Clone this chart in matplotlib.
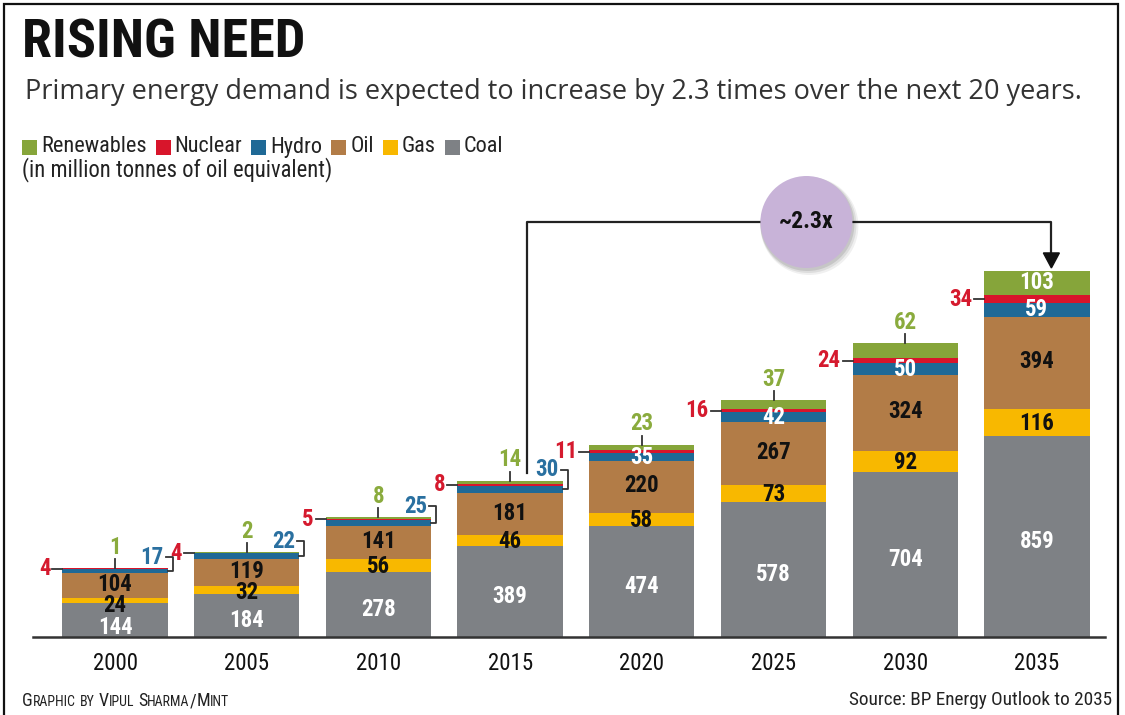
import matplotlib
matplotlib.use("Agg")
from matplotlib import pyplot as plt
from matplotlib import font_manager as fm
from matplotlib.patches import Rectangle, Ellipse, Polygon

# values in million tonnes of oil equivalent
years = ["2000", "2005", "2010", "2015", "2020", "2025", "2030", "2035"]
coal = [144, 184, 278, 389, 474, 578, 704, 859]
gas = [24, 32, 56, 46, 58, 73, 92, 116]
oil = [104, 119, 141, 181, 220, 267, 324, 394]
hydro = [17, 22, 25, 30, 35, 42, 50, 59]
nuclear = [4, 4, 5, 8, 11, 16, 24, 34]
renewables = [1, 2, 8, 14, 23, 37, 62, 103]

legend_names = ["Renewables", "Nuclear", "Hydro", "Oil", "Gas", "Coal"]

colors = {
    "Coal": "#7e8185",
    "Gas": "#f8b800",
    "Oil": "#b27c47",
    "Hydro": "#1f6996",
    "Nuclear": "#d8152b",
    "Renewables": "#86a53a",
}
red_txt = "#d51a2e"
green_txt = "#8aab3d"
blue_txt = "#2a70a0"

names = {f.name for f in fm.fontManager.ttflist}
NARROW = "Liberation Sans"
for cand in ["Liberation Sans Narrow", "Roboto Condensed", "Open Sans Condensed", "Noto Sans Condensed"]:
    if cand in names:
        NARROW = cand
        break
narrow_ok = NARROW != "Liberation Sans"
SUB = "Open Sans" if "Open Sans" in names else "DejaVu Sans"
NUMSIZE = 16.5 if narrow_ok else 15.5

W, H = 1125, 715
fig = plt.figure(figsize=(W / 100, H / 100), dpi=100)
r = fig.canvas.get_renderer()


def fx(p):
    return p / W


def fy(p):
    return 1 - p / H


# axes placed so that bars sit where they do in the graphic
base_px, top_px = 637, 170
left_px, right_px = 33, 1105
c0, step = 115, 131.7
scale = 0.2339  # px per unit
ax = fig.add_axes([fx(left_px), fy(base_px), (right_px - left_px) / W, (base_px - top_px) / H])
ax.set_xlim((left_px - c0) / step, (right_px - c0) / step)
ax.set_ylim(0, (base_px - top_px) / scale)
ax.axis("off")
XPX = 1 / step
YPX = 1 / scale

x = list(range(len(years)))
bw = 0.8
bottom = [0] * len(years)
stack = [("Coal", coal), ("Gas", gas), ("Oil", oil), ("Hydro", hydro),
         ("Nuclear", nuclear), ("Renewables", renewables)]
levels = {}
for name, vals in stack:
    ax.bar(x, vals, bw, bottom=bottom, color=colors[name], linewidth=0, zorder=2)
    levels[name] = [(b, b + v) for b, v in zip(bottom, vals)]
    bottom = [b + v for b, v in zip(bottom, vals)]
totals = bottom

ax.axhline(0, color="#333333", lw=1.8, zorder=3, clip_on=False)

num = dict(family=NARROW, weight="bold", fontsize=NUMSIZE, ha="center", va="center", zorder=5)
line_kw = dict(color="#333333", lw=1.3, zorder=4, clip_on=False)

for i in x:
    # inner labels, pushed apart where the segments are thin
    lo, hi = levels["Oil"][i]
    oy = (lo + hi) / 2 + 1 * YPX
    lo, hi = levels["Gas"][i]
    gy = min((lo + hi) / 2 - 1 * YPX, oy - 21 * YPX)
    lo, hi = levels["Coal"][i]
    cy = min((lo + hi) / 2 - 5 * YPX, gy - 21.5 * YPX)
    ax.text(i, cy, str(coal[i]), color="white", **num)
    ax.text(i, gy, str(gas[i]), color="#111111", **num)
    ax.text(i, oy, str(oil[i]), color="#111111", **num)

    left = i - bw / 2
    right = i + bw / 2
    top = totals[i]

    # nuclear, to the left with a leader
    lo, hi = levels["Nuclear"][i]
    ny = (lo + hi) / 2
    ax.plot([left - 10 * XPX, left], [ny, ny], **line_kw)
    ax.text(left - 12 * XPX, ny, str(nuclear[i]), color=red_txt,
            **{**num, "ha": "right"})

    # hydro
    lo, hi = levels["Hydro"][i]
    hy = (lo + hi) / 2
    if i < 4:
        ly = top + 11 * YPX
        ax.text(right - 4 * XPX, ly, str(hydro[i]), color=blue_txt,
                **{**num, "ha": "right"})
        bx = right + 5 * XPX
        ax.plot([right - 2 * XPX, bx, bx, right], [ly, ly, hy, hy], **line_kw)
    else:
        ax.text(i, hy, str(hydro[i]), color="white", **num)

    # renewables
    if i < 7:
        ax.plot([i, i], [top, top + 9 * YPX], **line_kw)
        ax.text(i, top + 21 * YPX, str(renewables[i]), color=green_txt, **num)
    else:
        lo, hi = levels["Renewables"][i]
        ax.text(i, (lo + hi) / 2, str(renewables[i]), color="white", **num)

    ax.text(i, -26 * YPX, years[i], family=NARROW, fontsize=16.5, color="#111111",
            ha="center", va="center", clip_on=False)

# growth connector 2015 -> 2035
conn_y = (base_px - 222) / scale
xa = 3 + 0.13
xb = 7 + 0.11
ax.plot([xa, xa, xb, xb], [totals[3] + 8 * YPX, conn_y, conn_y, totals[7] + 17 * YPX],
        color="#222222", lw=1.6, zorder=4, clip_on=False)
tip = totals[7] + 3 * YPX
ax.add_patch(Polygon([[xb - 8 * XPX, tip + 15 * YPX], [xb + 8 * XPX, tip + 15 * YPX], [xb, tip]],
                     closed=True, color="#111111", zorder=5, clip_on=False))
cx = 5.25
for k, a in enumerate([0.06, 0.08, 0.10]):
    ax.add_patch(Ellipse((cx + (3 - k) * XPX, conn_y - (4 - k) * YPX),
                         (94 + 2 * (2 - k)) * XPX, (94 + 2 * (2 - k)) * YPX,
                         color="black", alpha=a, lw=0, zorder=5, clip_on=False))
ax.add_patch(Ellipse((cx, conn_y), 92 * XPX, 92 * YPX, color="#c8b3d8", lw=0,
                     zorder=6, clip_on=False))
ax.text(cx, conn_y, "~2.3x", family=NARROW, weight="bold", fontsize=17,
        color="#111111", ha="center", va="center", zorder=7)


def fit(t, target):
    w = t.get_window_extent(r).width
    t.set_fontsize(t.get_fontsize() * target / w)


# header
t = fig.text(fx(22), fy(43), "RISING NEED", family=NARROW, weight="bold",
             fontsize=37, color="#111111", ha="left", va="center")
fit(t, 283)
t = fig.text(fx(25), fy(92), "Primary energy demand is expected to increase by 2.3 times over the next 20 years.",
             family=SUB, fontsize=18, color="#333333", ha="left", va="center")
fit(t, 1055)

# legend
lx = 22
for name in legend_names:
    fig.patches.append(Rectangle((fx(lx), fy(155)), 15 / W, 15 / H, transform=fig.transFigure,
                                 color=colors[name], lw=0))
    t = fig.text(fx(lx + 19), fy(147), name, family=NARROW, fontsize=16,
                 color="#222222", ha="left", va="center")
    lx += 19 + t.get_window_extent(r).width + 9
t = fig.text(fx(22), fy(170), "(in million tonnes of oil equivalent)", family=NARROW,
             fontsize=15.5, color="#222222", ha="left", va="center")
fit(t, 308)

# footer, small caps by hand
fx0 = 22
for word in ["Graphic", "by", "Vipul", "Sharma/Mint"]:
    parts = []
    if word == "by":
        parts.append(("BY", 10))
    elif word == "Sharma/Mint":
        parts += [("S", 13), ("HARMA", 10), ("/", 13), ("M", 13), ("INT", 10)]
    else:
        parts += [(word[0].upper(), 13), (word[1:].upper(), 10)]
    for s, size in parts:
        t = fig.text(fx(fx0), fy(706), s, family=NARROW, fontsize=size, color="#222222",
                     ha="left", va="baseline")
        fx0 += t.get_window_extent(r).width
    fx0 += 4
t = fig.text(fx(1112), fy(700), "Source: BP Energy Outlook to 2035", family=NARROW,
             fontsize=14.2, color="#222222", ha="right", va="center")
fit(t, 264)

# frame around the graphic
fig.patches.append(Rectangle((fx(4), -0.02), (1118 - 4) / W, fy(4) + 0.02,
                             transform=fig.transFigure, fill=False, ec="#111111", lw=1.6))

fig.savefig("out.png", dpi=100)
